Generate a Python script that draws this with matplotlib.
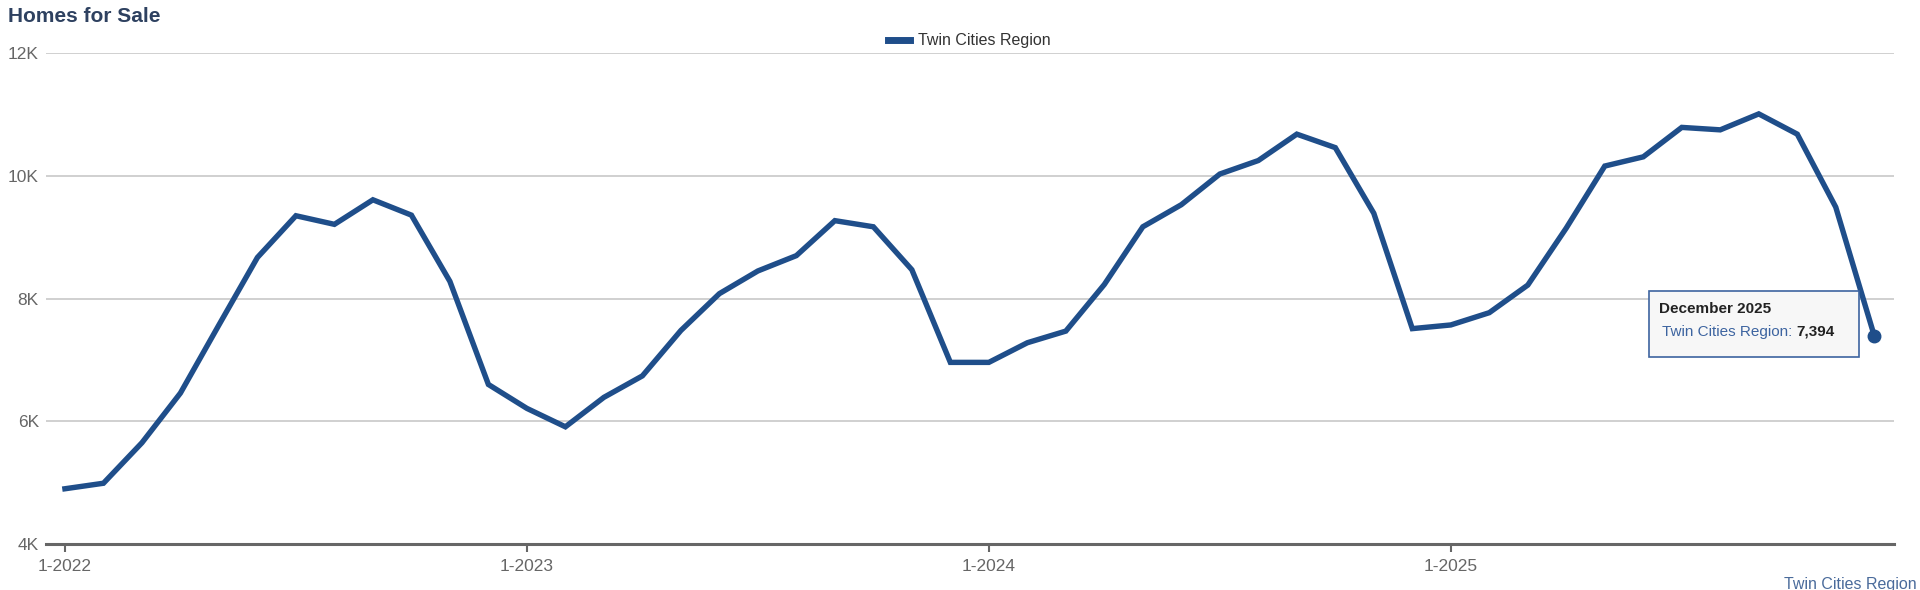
"""
Homes for Sale, Twin Cities Region, monthly from 1-2022 to 12-2025.
"""
import matplotlib
matplotlib.use('Agg')
import matplotlib.pyplot as plt
from matplotlib.ticker import FuncFormatter

plt.rcParams['font.family'] = ['Liberation Sans', 'DejaVu Sans']

SERIES_NAME = 'Twin Cities Region'
LINE_COLOR = '#1f4e8a'

months = [f'{m}-{y}' for y in (2022, 2023, 2024, 2025) for m in range(1, 13)]
homes_for_sale = [
    4900, 4990, 5650, 6460, 7570, 8670, 9350, 9210, 9610, 9360, 8280, 6600,
    6210, 5910, 6390, 6740, 7480, 8080, 8450, 8700, 9270, 9170, 8470, 6960,
    6960, 7280, 7470, 8230, 9170, 9530, 10030, 10250, 10680, 10460, 9390, 7510,
    7570, 7770, 8220, 9150, 10160, 10310, 10790, 10750, 11010, 10680, 9490, 7394,
]
tick_positions = [0, 12, 24, 36]
tick_labels = ['1-2022', '1-2023', '1-2024', '1-2025']
y_ticks = [4000, 6000, 8000, 10000, 12000]


def main():
    fig = plt.figure(figsize=(19.2, 5.9), dpi=100)
    ax = fig.add_axes([0.0238, 0.078, 0.9624, 0.8319])

    x = list(range(len(homes_for_sale)))
    ax.plot(x, homes_for_sale, color=LINE_COLOR, linewidth=3.9,
            solid_joinstyle='miter', label=SERIES_NAME, zorder=3)
    # highlighted last point (hover marker)
    ax.plot(x[-1], homes_for_sale[-1], 'o', color=LINE_COLOR, markersize=9, zorder=4)

    ax.set_xlim(-0.5, len(homes_for_sale) - 0.5)
    ax.set_ylim(4000, 12000)
    ax.set_yticks(y_ticks)
    ax.yaxis.set_major_formatter(FuncFormatter(lambda v, pos: '%dK' % (v / 1000)))
    ax.set_xticks(tick_positions)
    ax.set_xticklabels(tick_labels)

    ax.grid(axis='y', color='#c8c8c8', linewidth=1.2)
    ax.set_axisbelow(True)
    for side in ('top', 'right', 'left'):
        ax.spines[side].set_visible(False)
    ax.spines['bottom'].set_color('#666666')
    ax.spines['bottom'].set_linewidth(2.2)
    ax.tick_params(axis='y', length=0, pad=5, labelsize=12.5, labelcolor='#666666')
    ax.tick_params(axis='x', length=6, width=1.5, color='#666666', pad=5,
                   labelsize=12.5, labelcolor='#666666')

    fig.text(0.004, 0.972, 'Homes for Sale', fontsize=15, fontweight='bold',
             color='#2e4160', va='center', ha='left')

    leg = ax.legend(loc='lower center', bbox_to_anchor=(0.5, 0.99), frameon=False,
                    fontsize=11.5, handlelength=1.4, handletextpad=0.5,
                    borderaxespad=0.2)
    for text in leg.get_texts():
        text.set_color('#333333')
    for line in leg.get_lines():
        line.set_linewidth(5)

    # tooltip box for the last value
    box_x, box_y = fig.transFigure.inverted().transform((1649, 590 - 357))
    fig.patches.append(plt.Rectangle((box_x, box_y), 210 / 1920, 66 / 590,
                                     transform=fig.transFigure, facecolor='#f7f7f7',
                                     edgecolor='#3d64a0', linewidth=1.2, zorder=5))
    fig.text(1659 / 1920, 1 - 309 / 590, 'December 2025', fontsize=11,
             fontweight='bold', color='#222222', va='center', zorder=6)
    t1 = fig.text(1662 / 1920, 1 - 332 / 590, SERIES_NAME + ': ', fontsize=11,
                  color='#3d64a0', va='center', zorder=6)
    fig.canvas.draw()
    bb = t1.get_window_extent()
    fig.text(bb.x1 / 1920, 1 - 332 / 590, '{:,}'.format(homes_for_sale[-1]),
             fontsize=11, fontweight='bold', color='#222222', va='center', zorder=6)

    fig.text(0.998, 1 - 584 / 590, SERIES_NAME, fontsize=11.5, color='#4a6b9b',
             ha='right', va='center')

    fig.savefig('out.png', dpi=100)


if __name__ == '__main__':
    main()
